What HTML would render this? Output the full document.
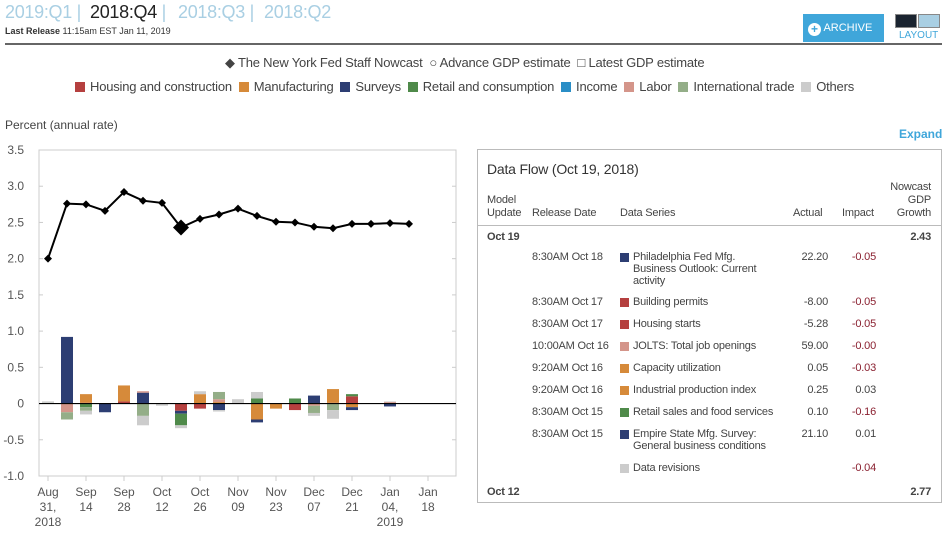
<!DOCTYPE html>
<html><head><meta charset="utf-8">
<style>
*{margin:0;padding:0;box-sizing:border-box}
body{width:946px;height:536px;background:#fff;font-family:"Liberation Sans",sans-serif;color:#333;position:relative;overflow:hidden}
.a{position:absolute;white-space:nowrap}
.q{font-size:18px;color:#a9cfe3;letter-spacing:-0.3px}
.sw{display:inline-block;width:10px;height:10px;vertical-align:-1px;margin-right:5px}
.leg{font-size:13px;color:#444;letter-spacing:-0.2px}
.tbl{position:absolute;left:477px;top:149px;width:465px;height:354px;border:1px solid #bbb}
.t{position:absolute;font-size:11px;color:#444;white-space:nowrap;letter-spacing:-0.2px}
.r{text-align:right}
.imp{color:#8a2030}
</style></head><body>
<div class="a q" style="left:5px;top:2px">2019:Q1 |</div>
<div class="a q" style="left:90px;top:2px;color:#222">2018:Q4 <span style="color:#a9cfe3">|</span></div>
<div class="a q" style="left:178px;top:2px">2018:Q3 |</div>
<div class="a q" style="left:264px;top:2px">2018:Q2</div>
<div class="a" style="left:5px;top:26px;font-size:9px;color:#333"><b>Last Release</b> 11:15am EST Jan 11, 2019</div>
<div class="a" style="left:803px;top:14px;width:81px;height:28px;background:#3fa6da;color:#fff;font-size:11px;line-height:28px;padding-left:5px"><span style="display:inline-block;width:13px;height:13px;border-radius:50%;background:#fff;color:#3fa6da;text-align:center;line-height:13px;font-weight:bold;font-size:12px;vertical-align:-2px">+</span> ARCHIVE</div>
<div class="a" style="left:895px;top:14px;width:46px;height:15px"><span style="position:absolute;left:0;top:0;width:22px;height:14px;background:#1b2430;border:1px solid #888"></span><span style="position:absolute;left:23px;top:0;width:22px;height:14px;background:#a9cfe3;border:1px solid #888"></span></div>
<div class="a" style="left:899px;top:30px;font-size:10px;color:#3fa6da">LAYOUT</div>
<div class="a" style="left:5px;top:43px;width:937px;height:2px;background:#666"></div>

<div class="a leg" style="left:225px;top:55px">
<span>◆ The New York Fed Staff Nowcast</span>&nbsp;
<span>○ Advance GDP estimate</span>&nbsp;
<span>□ Latest GDP estimate</span></div>
<div class="a leg" style="left:75px;top:79px">
<span><i class="sw" style="background:#b5403f"></i>Housing and construction</span>&nbsp;
<span><i class="sw" style="background:#d68a3a"></i>Manufacturing</span>&nbsp;
<span><i class="sw" style="background:#2d3e73"></i>Surveys</span>&nbsp;
<span><i class="sw" style="background:#4f8a4a"></i>Retail and consumption</span>&nbsp;
<span><i class="sw" style="background:#2a8ec6"></i>Income</span>&nbsp;
<span><i class="sw" style="background:#d4958a"></i>Labor</span>&nbsp;
<span><i class="sw" style="background:#94ae88"></i>International trade</span>&nbsp;
<span><i class="sw" style="background:#cccccc"></i>Others</span></div>

<div class="a" style="left:5px;top:118px;font-size:12px;color:#444">Percent (annual rate)</div>
<div class="a" style="left:899px;top:127px;font-size:12px;color:#3fa6da;font-weight:bold">Expand</div>

<svg id="chart" class="a" style="left:0;top:140px" width="470" height="396"></svg>

<div class="tbl">
<div class="t" style="left:9px;top:11px;font-size:14px;color:#333">Data Flow (Oct 19, 2018)</div>
<div class="t" style="left:9px;top:44px;line-height:13px">Model<br>Update</div>
<div class="t" style="left:54px;top:57px">Release Date</div>
<div class="t" style="left:142px;top:57px">Data Series</div>
<div class="t" style="left:315px;top:57px">Actual</div>
<div class="t" style="left:364px;top:57px">Impact</div>
<div class="t r" style="left:400px;top:31px;width:53px;line-height:13px">Nowcast<br>GDP<br>Growth</div>
<div style="position:absolute;left:0;top:75px;width:463px;height:1px;background:#bbb"></div>
<div class="t" style="left:9px;top:81px;font-weight:bold">Oct 19</div>
<div class="t r" style="left:400px;top:81px;width:53px;font-weight:bold">2.43</div>
<div id="rows"></div>
<div class="t" style="left:9px;top:336px;font-weight:bold">Oct 12</div>
<div class="t r" style="left:400px;top:336px;width:53px;font-weight:bold">2.77</div>
</div>

<script>
const NS="http://www.w3.org/2000/svg";
const weekLabels=[["Aug","31,","2018"],["Sep","14"],["Sep","28"],["Oct","12"],["Oct","26"],["Nov","09"],["Nov","23"],["Dec","07"],["Dec","21"],["Jan","04,","2019"],["Jan","18"]];
const yTicks=[3.5,3.0,2.5,2.0,1.5,1.0,0.5,0,-0.5,-1.0];
const nowcast=[2.00,2.76,2.75,2.66,2.92,2.80,2.77,2.43,2.55,2.61,2.69,2.59,2.51,2.50,2.44,2.42,2.48,2.48,2.49,2.48];
const highlightIndex=7;
const categories=["housing","manufacturing","surveys","retail","income","labor","trade","others"];
const catColors=["#b5403f","#d68a3a","#2d3e73","#4f8a4a","#2a8ec6","#d4958a","#94ae88","#cccccc"];
const housing=[0,0,0.01,0,0.03,0,0,-0.10,-0.07,0,0,0,0,-0.09,0,0.01,0.10,0,0,0];
const manufacturing=[0,0,0.12,0,0.22,0,0,0,0.13,0.02,0,-0.22,-0.07,0,0,0.19,-0.05,0,0,0];
const surveys=[0,0.92,0,-0.12,0,0.15,0,-0.04,0,-0.09,0,-0.04,0,0,0.11,0,-0.04,0,-0.04,0];
const retail=[0,0,-0.05,0,0,0,0,-0.16,0,0,0,0.07,0,0.07,0,0,0.03,0,0,0];
const income=[0,0,0,0,0,0,0,0,0,0,0,0,0,0,0,0,0,0,0,0];
const labor=[0,-0.12,0,0,0,0.02,0,0,0,0.04,0,0,0,0,-0.03,0,0,0,0.02,0];
const trade=[0.01,-0.10,-0.05,0,0,-0.17,0,0,0,0.10,0,0,0,0,-0.10,-0.09,0,0,0,0];
const others=[0.02,0,-0.05,0,0,-0.13,-0.03,-0.04,0.04,-0.02,0.06,0.09,0,0,-0.04,-0.12,0,0,0.01,0];
const series=[housing,manufacturing,surveys,retail,income,labor,trade,others];

const svg=document.getElementById("chart");
const X0=48, WK=19, PL=39, PR=456;
const x=i=>X0+i*WK;
const y=v=>10+(3.5-v)*(326/4.5);
function el(t,a){const e=document.createElementNS(NS,t);for(const k in a)e.setAttribute(k,a[k]);svg.appendChild(e);return e;}
const frame=el("rect",{x:PL,y:10,width:PR-PL,height:326,fill:"none",stroke:"#ccc"});


yTicks.forEach(v=>{
 const t=el("text",{x:24,y:y(v)+4,"text-anchor":"end","font-size":"12",fill:"#555","font-family":"Liberation Sans, sans-serif"});
 t.textContent=v===0?"0":v.toFixed(1);
 
 
 el("line",{x1:PL,x2:PL+4,y1:y(v),y2:y(v),stroke:"#ccc"});
 el("line",{x1:PR-4,x2:PR,y1:y(v),y2:y(v),stroke:"#ccc"});
});
weekLabels.forEach((lab,k)=>{
 const xx=x(k*2);
 el("line",{x1:xx,x2:xx,y1:336,y2:341,stroke:"#ccc"});
 lab.forEach((s,j)=>{
  const t=el("text",{x:xx,y:356+j*15,"text-anchor":"middle","font-size":"12",fill:"#555","font-family":"Liberation Sans, sans-serif"});
  t.textContent=s;
  
  
 });
});
nowcast.forEach((_,i)=>{
 let pos=0,neg=0;
 series.forEach((s,c)=>{
  const v=s[i]; if(!v) return;
  let a,b; if(v>0){a=pos;b=pos+v;pos=b;}else{a=neg;b=neg+v;neg=b;}
  const r=el("rect",{x:x(i)-6,width:12,y:Math.min(y(a),y(b)),height:Math.abs(y(a)-y(b)),fill:catColors[c]});
  
  
 });
});
const zl=el("line",{x1:PL,x2:PR,y1:y(0),y2:y(0),stroke:"#000","stroke-width":1.2});


const ln=el("polyline",{points:nowcast.map((v,i)=>x(i)+","+y(v)).join(" "),fill:"none",stroke:"#000","stroke-width":2});


nowcast.forEach((v,i)=>{
 const s=i===highlightIndex?8:4;
 const d=el("polygon",{points:`${x(i)},${y(v)-s} ${x(i)+s},${y(v)} ${x(i)},${y(v)+s} ${x(i)-s},${y(v)}`,fill:"#000"});
 
 
});

const rows=[
 ["8:30AM Oct 18","#2d3e73",["Philadelphia Fed Mfg.","Business Outlook: Current","activity"],"22.20","-0.05"],
 ["8:30AM Oct 17","#b5403f",["Building permits"],"-8.00","-0.05"],
 ["8:30AM Oct 17","#b5403f",["Housing starts"],"-5.28","-0.05"],
 ["10:00AM Oct 16","#d4958a",["JOLTS: Total job openings"],"59.00","-0.00"],
 ["9:20AM Oct 16","#d68a3a",["Capacity utilization"],"0.05","-0.03"],
 ["9:20AM Oct 16","#d68a3a",["Industrial production index"],"0.25","0.03"],
 ["8:30AM Oct 15","#4f8a4a",["Retail sales and food services"],"0.10","-0.16"],
 ["8:30AM Oct 15","#2d3e73",["Empire State Mfg. Survey:","General business conditions"],"21.10","0.01"],
 ["","#cccccc",["Data revisions"],"","-0.04"]];
const tops=[101,146,168,190,212,234,256,278,312];
const box=document.querySelector(".tbl");
rows.forEach((r,i)=>{
 const d=document.createElement("div");
 
 
 d.innerHTML=`<div class="t" style="left:54px;top:${tops[i]}px">${r[0]}</div>
<div class="t" style="left:142px;top:${tops[i]+2}px;width:9px;height:9px;background:${r[1]}"></div>
<div class="t" style="left:155px;top:${tops[i]}px;line-height:12px">${r[2].join("<br>")}</div>
<div class="t r" style="left:300px;top:${tops[i]}px;width:50px">${r[3]}</div>
<div class="t r imp" style="left:350px;top:${tops[i]}px;width:48px;${r[4]==='0.03'||r[4]==='0.01'?'color:#444':''}">${r[4]}</div>`;
 box.appendChild(d);
});
</script>
</body></html>
